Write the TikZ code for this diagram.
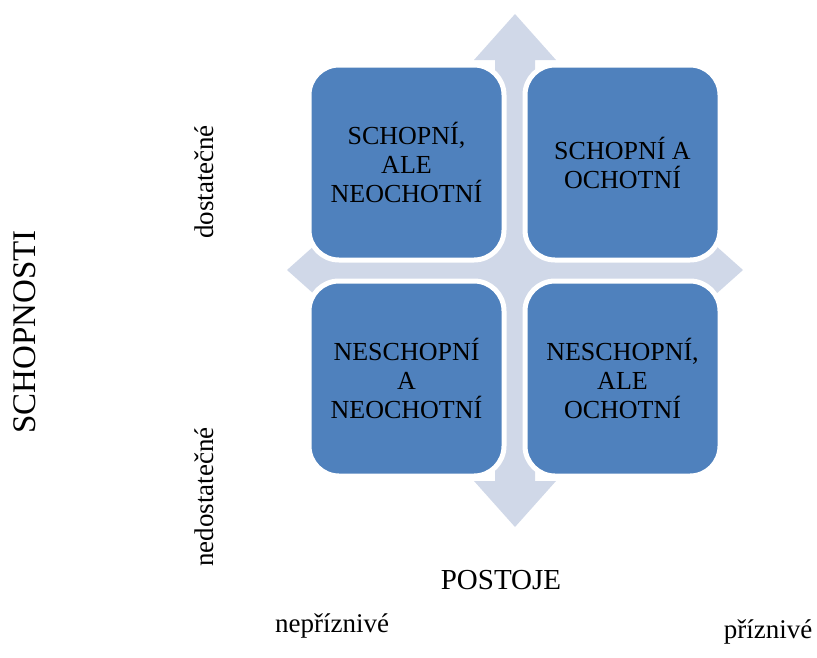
\documentclass[tikz,border=0pt]{standalone}
\usepackage{fontspec}
\setmainfont{Liberation Serif}
\definecolor{boxblue}{RGB}{79,129,189}
\definecolor{arrowgrey}{RGB}{208,216,232}
\begin{document}
\begin{tikzpicture}[x=1pt,y=-1pt,
  quadbox/.style={draw=white, line width=5pt, fill=boxblue, rounded corners=30pt,
    minimum width=195pt, minimum height=195pt, inner sep=0pt, align=center,
    font=\fontsize{26}{29}\selectfont, text=black},
  axislabel/.style={font=\fontsize{27}{30}\selectfont, inner sep=0pt}]
\useasboundingbox (0,0) rectangle (817,657);
% background four-way arrow
\fill[arrowgrey] (515,14) -- (556,60) -- (535,60) -- (535,250) -- (697,250) -- (697,229)
  -- (743,270) -- (697,311) -- (697,290) -- (535,290) -- (535,481) -- (556,481)
  -- (515,527) -- (474,481) -- (495,481) -- (495,290) -- (333,290) -- (333,311)
  -- (287,270) -- (333,229) -- (333,250) -- (495,250) -- (495,60) -- (474,60) -- cycle;
% quadrant boxes
\node[quadbox] (tl) at (406.5,162.5) {SCHOPNÍ,\\ALE\\NEOCHOTNÍ};
\node[quadbox] (tr) at (622.5,162.5) {SCHOPNÍ A\\OCHOTNÍ};
\node[quadbox] (bl) at (406.5,378.5) {NESCHOPNÍ\\A\\NEOCHOTNÍ};
\node[quadbox] (br) at (622.5,378.5) {NESCHOPNÍ,\\ALE\\OCHOTNÍ};
% axis labels
\node[axislabel, rotate=90, font=\fontsize{33}{36}\selectfont] (schop) at (25,332) {SCHOPNOSTI};
\node[axislabel, rotate=90] (dost) at (204,182) {dostatečné};
\node[axislabel, rotate=90] (nedost) at (204,497) {nedostatečné};
\node[axislabel, font=\fontsize{29}{32}\selectfont] (post) at (501,580) {POSTOJE};
\node[axislabel, anchor=base] (nepr) at (332,632) {nepříznivé};
\node[axislabel, anchor=base] (pr) at (768,638) {příznivé};
\end{tikzpicture}
\end{document}
